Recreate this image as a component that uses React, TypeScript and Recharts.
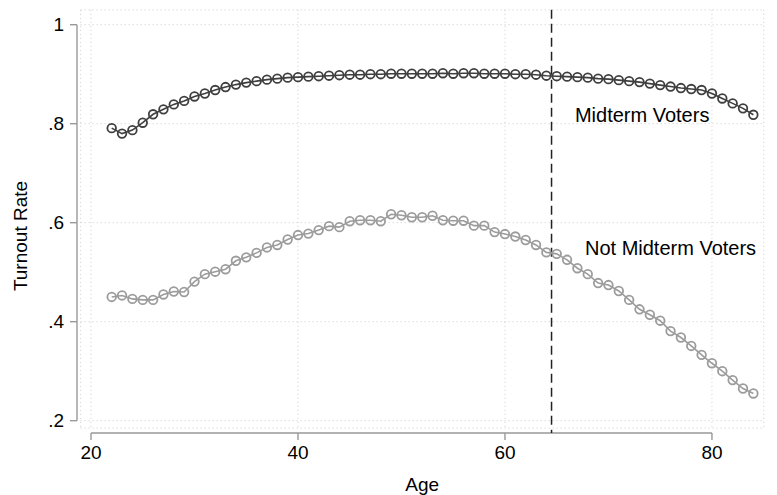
import React from 'react';
import {
  LineChart,
  Line,
  XAxis,
  YAxis,
  CartesianGrid,
  ReferenceLine,
  ReferenceDot,
  Label,
} from 'recharts';

const ages = [
  22, 23, 24, 25, 26, 27, 28, 29, 30, 31, 32, 33, 34, 35, 36, 37, 38, 39, 40, 41, 42,
  43, 44, 45, 46, 47, 48, 49, 50, 51, 52, 53, 54, 55, 56, 57, 58, 59, 60, 61, 62, 63,
  64, 65, 66, 67, 68, 69, 70, 71, 72, 73, 74, 75, 76, 77, 78, 79, 80, 81, 82, 83, 84,
];

const midtermVoters = [
  0.791, 0.78, 0.787, 0.802, 0.819, 0.829, 0.839, 0.846, 0.855, 0.861, 0.868, 0.874,
  0.879, 0.883, 0.886, 0.889, 0.891, 0.893, 0.894, 0.895, 0.896, 0.897, 0.898, 0.899,
  0.899, 0.9, 0.9, 0.901, 0.901, 0.901, 0.901, 0.901, 0.902, 0.901, 0.902, 0.902,
  0.901, 0.901, 0.901, 0.9, 0.9, 0.899, 0.897, 0.896, 0.895, 0.894, 0.893, 0.891,
  0.89, 0.888, 0.886, 0.884, 0.881, 0.878, 0.875, 0.872, 0.87, 0.868, 0.861, 0.851,
  0.841, 0.831, 0.818,
];

const notMidtermVoters = [
  0.45, 0.453, 0.446, 0.444, 0.444, 0.455, 0.461, 0.46, 0.481, 0.496, 0.501, 0.506,
  0.523, 0.53, 0.539, 0.55, 0.555, 0.566, 0.575, 0.578, 0.585, 0.593, 0.591, 0.603,
  0.605, 0.605, 0.603, 0.617, 0.615, 0.611, 0.611, 0.614, 0.605, 0.604, 0.604, 0.594,
  0.594, 0.581, 0.577, 0.572, 0.565, 0.555, 0.54, 0.537, 0.525, 0.508, 0.496, 0.478,
  0.474, 0.462, 0.444, 0.425, 0.414, 0.402, 0.381, 0.368, 0.351, 0.333, 0.316, 0.3,
  0.282, 0.265, 0.255,
];

const ageTicks = [20, 40, 60, 80];
const rateTicks = [0.2, 0.4, 0.6, 0.8, 1];
const cutoffAge = 64.5;

const data = ages.map((age, i) => ({
  age,
  midterm: midtermVoters[i],
  notMidterm: notMidtermVoters[i],
}));

// stata-style offset axes, drawn as segments outside the plot region
const yAxisAt = 18.647;
const yTickEnd = 17.971;
const xAxisAt = 0.175;
const xTickEnd = 0.161;
const axisColor = '#999999';
const font = 'Liberation Sans, Arial, Helvetica, sans-serif';

const fmtRate = (v: number) => (v === 1 ? '1' : String(v).replace('0.', '.'));

const App: React.FC = () => {
  return (
    <div style={{ position: 'absolute', left: 0, top: 0, width: 777, height: 495, background: '#fff', fontFamily: font }}>
      <LineChart
        width={777}
        height={495}
        data={data}
        margin={{ top: 9.85, right: 13.3, left: 20.65, bottom: 0 }}
      >
        <CartesianGrid stroke="#cccccc" strokeDasharray="1 3" />
        <XAxis
          dataKey="age"
          type="number"
          domain={[19, 85]}
          ticks={ageTicks}
          axisLine={false}
          tickLine={false}
          tickSize={0}
          tickMargin={17}
          height={66.9}
          tick={{ fontSize: 19, fill: '#000', fontFamily: font }}
        >
          <Label value="Age" position="insideBottom" offset={4} fontSize={19} fill="#000" fontFamily={font} />
        </XAxis>
        <YAxis
          type="number"
          domain={[0.185, 1.03]}
          ticks={rateTicks}
          tickFormatter={fmtRate}
          axisLine={false}
          tickLine={false}
          tickSize={0}
          tickMargin={16.5}
          width={60}
          tick={{ fontSize: 19, fill: '#000', fontFamily: font }}
        >
          <Label
            content={() => (
              <text
                x={20}
                y={236}
                transform="rotate(-90 20 236)"
                textAnchor="middle"
                dominantBaseline="central"
                fontSize={19}
                fill="#000"
                fontFamily={font}
              >
                Turnout Rate
              </text>
            )}
          />
        </YAxis>

        <ReferenceLine
          segment={[{ x: yAxisAt, y: 0.2 }, { x: yAxisAt, y: 1 }]}
          stroke={axisColor}
          strokeWidth={1.4}
          ifOverflow="visible"
        />
        {rateTicks.map(t => (
          <ReferenceLine
            key={'yt' + t}
            segment={[{ x: yTickEnd, y: t }, { x: yAxisAt, y: t }]}
            stroke={axisColor}
            strokeWidth={1.4}
            ifOverflow="visible"
          />
        ))}
        <ReferenceLine
          segment={[{ x: 20, y: xAxisAt }, { x: 80, y: xAxisAt }]}
          stroke={axisColor}
          strokeWidth={1.4}
          ifOverflow="visible"
        />
        {ageTicks.map(t => (
          <ReferenceLine
            key={'xt' + t}
            segment={[{ x: t, y: xAxisAt }, { x: t, y: xTickEnd }]}
            stroke={axisColor}
            strokeWidth={1.4}
            ifOverflow="visible"
          />
        ))}

        <ReferenceLine
          segment={[{ x: cutoffAge, y: 1.03 }, { x: cutoffAge, y: xAxisAt }]}
          stroke="#222"
          strokeWidth={1.5}
          strokeDasharray="9 5"
          ifOverflow="visible"
        />

        <Line
          type="linear"
          dataKey="midterm"
          stroke="#3f3f3f"
          strokeWidth={1.6}
          dot={{ r: 4.3, stroke: '#3f3f3f', strokeWidth: 1.8, fill: 'none' }}
          isAnimationActive={false}
        />
        <Line
          type="linear"
          dataKey="notMidterm"
          stroke="#9c9c9c"
          strokeWidth={1.6}
          dot={{ r: 4.3, stroke: '#9c9c9c', strokeWidth: 1.8, fill: 'none' }}
          isAnimationActive={false}
        />

        <ReferenceDot
          x={66.76}
          y={0.8186}
          r={0}
          fill="none"
          stroke="none"
          ifOverflow="visible"
          label={{ value: 'Midterm Voters', position: 'right', offset: 0, fontSize: 20, fill: '#000', fontFamily: font }}
        />
        <ReferenceDot
          x={67.73}
          y={0.549}
          r={0}
          fill="none"
          stroke="none"
          ifOverflow="visible"
          label={{ value: 'Not Midterm Voters', position: 'right', offset: 0, fontSize: 20, fill: '#000', fontFamily: font }}
        />
      </LineChart>
    </div>
  );
};

export default App;
